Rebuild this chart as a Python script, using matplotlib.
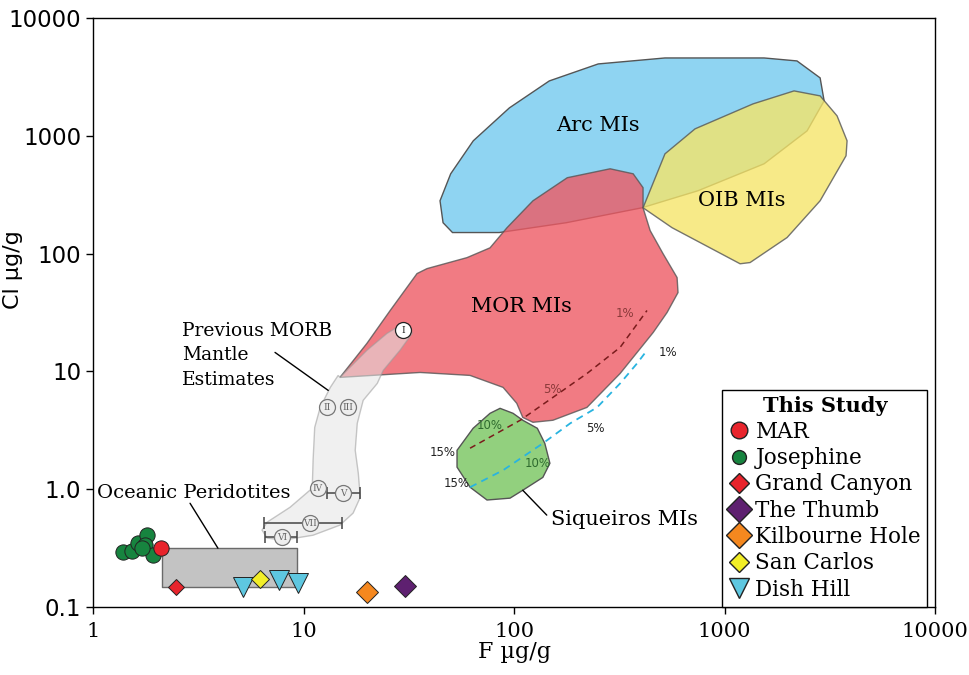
import matplotlib
matplotlib.use("Agg")
import matplotlib.pyplot as plt
from matplotlib.lines import Line2D

# ---- field outlines (F ug/g, Cl ug/g) ----
arc_f = [44.5, 46, 51, 85, 177, 405, 748, 1541, 2466, 2971, 2844, 2208,
         1541, 521, 251, 147, 95, 64, 50]
arc_cl = [281, 183, 151, 151, 183, 245, 342, 579, 1102, 1981, 3102, 4323,
          4581, 4581, 4076, 2924, 1726, 907, 476]

oib_f = [410, 521, 724, 1365, 2138, 2844, 3423, 3819, 3776, 2844, 1982,
         1322, 1185, 563]
oib_cl = [245, 703, 1146, 1867, 2406, 2183, 1477, 907, 677, 281, 137,
          84, 82, 166]

mor_f = [286, 368, 410, 410, 443, 510, 595, 601, 533, 458, 319, 222, 153,
         123, 110, 103, 88.7, 61.8, 35.8, 14.9, 20, 25.8, 34.6, 38.6,
         59.8, 76.9, 92.6, 123, 179]
mor_cl = [525, 476, 363, 245, 157, 100, 62.6, 46.7, 31.6, 21.4, 9.6, 4.95,
          3.85, 3.70, 4.07, 5.36, 7.32, 9.25, 9.8, 8.9, 17.3, 32.9, 67.7,
          74.6, 92.5, 112, 166, 281, 441]

siq_f = [85.8, 98.9, 110, 129, 140, 148, 137, 110, 95.7, 74.4, 61.8,
         53.6, 53.6, 63.9, 76.9]
siq_cl = [4.86, 4.41, 3.85, 3.29, 2.45, 1.66, 1.26, 0.98, 0.84, 0.81,
          1.04, 1.54, 2.14, 3.29, 4.41]

morb_f = [14.9, 20.0, 24.9, 28.7, 32.1, 32.8, 28.7, 23.9, 22.4, 19.2, 18.0,
          17.6, 18.2, 18.6, 17.2, 14.9, 11.1, 8.0, 6.71, 6.35, 6.71, 8.63,
          11.0, 11.1, 11.3, 12.0, 13.4, 14.6]
morb_cl = [8.9, 15.1, 21.0, 24.5, 23.6, 21.0, 15.1, 10.2, 7.91, 5.68, 3.63,
           2.14, 1.37, 0.855, 0.627, 0.496, 0.407, 0.370, 0.385, 0.450,
           0.525, 0.703, 1.02, 1.76, 3.35, 4.95, 7.32, 9.25]

peri_f = [2.13, 9.31]
peri_cl = [0.148, 0.316]

# previous MORB mantle estimates
est_lab = ["I", "II", "III", "IV", "V", "VI", "VII"]
est_f = [29.7, 12.9, 16.3, 11.7, 15.4, 7.9, 10.7]
est_cl = [22.3, 4.95, 4.95, 1.02, 0.925, 0.392, 0.515]
est_f_lo = [None, None, None, None, 12.9, 6.56, 6.5]
est_f_hi = [None, None, None, None, 18.6, 9.3, 15.2]

# melting curves
melt_red_f = [61.8, 107, 153, 222, 319, 428]
melt_red_cl = [2.23, 3.85, 6.02, 9.6, 16.0, 32.9]
melt_blue_f = [61.8, 88.7, 137, 185, 248, 319, 384, 428]
melt_blue_cl = [1.04, 1.45, 2.45, 3.63, 4.95, 7.91, 11.7, 15.1]

# this study
mar_f, mar_cl = [2.10], [0.316]
jos_f = [1.39, 1.53, 1.64, 1.81, 1.77, 1.93, 1.70]
jos_cl = [0.292, 0.299, 0.348, 0.407, 0.335, 0.276, 0.320]
gc_f, gc_cl = [2.48], [0.148]
thumb_f, thumb_cl = [30.4], [0.151]
kh_f, kh_cl = [20.0], [0.134]
sc_f, sc_cl = [6.21], [0.173]
dh_f = [5.16, 7.65, 9.42]
dh_cl = [0.148, 0.169, 0.160]

x_ticks = [1, 10, 100, 1000, 10000]
x_tick_labels = ["1", "10", "100", "1000", "10000"]
y_ticks = [0.1, 1, 10, 100, 1000, 10000]
y_tick_labels = ["0.1", "1.0", "10", "100", "1000", "10000"]

SERIF = "DejaVu Serif"
EDGE = "#555555"

fig = plt.figure(figsize=(9.69, 6.75), dpi=100)
ax = fig.add_axes([0.096, 0.1007, 0.869, 0.8726])
ax.set_xscale("log")
ax.set_yscale("log")
ax.set_xlim(1, 10000)
ax.set_ylim(0.1, 10000)

# fields
ax.fill(arc_f, arc_cl, facecolor="#8fd4f2", edgecolor=EDGE, lw=1, zorder=1)
ax.fill(mor_f, mor_cl, facecolor="#ee5a64", alpha=0.8, edgecolor=EDGE,
        lw=1, zorder=2)
ax.fill(oib_f, oib_cl, facecolor="#f5e56a", alpha=0.8, edgecolor=EDGE,
        lw=1, zorder=2)
ax.fill(morb_f, morb_cl, facecolor="#e4e4e4", alpha=0.55, edgecolor="#9a9a9a",
        lw=1, zorder=3)
ax.fill(siq_f, siq_cl, facecolor="#92d07e", edgecolor=EDGE, lw=1, zorder=3)
ax.fill_between(peri_f, peri_cl[0], peri_cl[1], facecolor="#c3c3c3",
                edgecolor="#6a6a6a", lw=1, zorder=3)

# melting curves
ax.plot(melt_red_f, melt_red_cl, ls=(0, (4, 3)), color="#7a1c1c", lw=1.1,
        zorder=4)
ax.plot(melt_blue_f, melt_blue_cl, ls=(0, (4, 3)), color="#29b4e0", lw=1.3,
        zorder=4)
pct = [("1%", 337, 31, "#8b3a3a"), ("5%", 152, 7.0, "#8b3a3a"),
       ("10%", 77, 3.5, "#2f6b2f"), ("15%", 46, 2.06, "#222222"),
       ("1%", 539, 14.5, "#222222"), ("5%", 243, 3.3, "#222222"),
       ("10%", 130, 1.66, "#2f6b2f"), ("15%", 53.6, 1.12, "#222222")]
for t, fx, fy, c in pct:
    ax.text(fx, fy, t, fontsize=8.5, color=c, ha="center", va="center",
            zorder=5)

# previous estimates with error bars
for i in range(len(est_lab)):
    if est_f_lo[i] is not None:
        ax.errorbar(est_f[i], est_cl[i],
                    xerr=[[est_f[i] - est_f_lo[i]], [est_f_hi[i] - est_f[i]]],
                    fmt="none", ecolor="#444444", elinewidth=1.1, capsize=4,
                    capthick=1.1, zorder=5)
    edge = "#222222" if est_lab[i] == "I" else "#777777"
    face = "white" if est_lab[i] == "I" else "#eeeeee"
    ax.plot(est_f[i], est_cl[i], "o", ms=11.5, mfc=face, mec=edge, mew=0.9,
            zorder=6)
    ax.text(est_f[i], est_cl[i], est_lab[i], fontsize=6.5, family=SERIF,
            color="#222222" if est_lab[i] == "I" else "#666666",
            ha="center", va="center", zorder=7)

# this study samples
ax.plot(jos_f, jos_cl, "o", ms=11, mfc="#17843f", mec="#222222", mew=0.7,
        ls="none", zorder=8)
ax.plot(mar_f, mar_cl, "o", ms=11, mfc="#e8242c", mec="#222222", mew=0.7,
        ls="none", zorder=8)
ax.plot(gc_f, gc_cl, "D", ms=8, mfc="#e8242c", mec="#222222", mew=0.7,
        ls="none", zorder=8)
ax.plot(dh_f, dh_cl, "v", ms=15, mfc="#5ec7e0", mec="#222222", mew=0.7,
        ls="none", zorder=8)
ax.plot(sc_f, sc_cl, "D", ms=9, mfc="#f2ee27", mec="#222222", mew=0.7,
        ls="none", zorder=9)
ax.plot(kh_f, kh_cl, "D", ms=11, mfc="#f5881f", mec="#222222", mew=0.7,
        ls="none", zorder=8)
ax.plot(thumb_f, thumb_cl, "D", ms=11, mfc="#5e2070", mec="#222222", mew=0.7,
        ls="none", zorder=8)

# field labels
lab_kw = dict(family=SERIF, color="black", zorder=10)
ax.text(251, 1216, "Arc MIs", ha="center", va="center", fontsize=15, **lab_kw)
ax.text(1211, 281, "OIB MIs", ha="center", va="center", fontsize=15, **lab_kw)
ax.text(109, 35.6, "MOR MIs", ha="center", va="center", fontsize=15, **lab_kw)
ax.text(150, 0.557, "Siqueiros MIs", ha="left", va="center", fontsize=15,
        **lab_kw)
ax.text(2.65, 13.7, "Previous MORB\nMantle\nEstimates", ha="left",
        va="center", linespacing=1.45, fontsize=13.5, **lab_kw)
ax.text(1.04, 0.92, "Oceanic Peridotites", ha="left", va="center",
        fontsize=14, **lab_kw)

# leader lines
ax.annotate("", xy=(13.1, 6.9), xytext=(7.32, 14.5),
            arrowprops=dict(arrowstyle="-", color="black", lw=1,
                            shrinkA=0, shrinkB=0))
ax.annotate("", xy=(3.92, 0.316), xytext=(2.89, 0.76),
            arrowprops=dict(arrowstyle="-", color="black", lw=1,
                            shrinkA=0, shrinkB=0))
ax.annotate("", xy=(110, 0.98), xytext=(143, 0.603),
            arrowprops=dict(arrowstyle="-", color="black", lw=1,
                            shrinkA=0, shrinkB=0))

# axes
ax.set_xticks(x_ticks)
ax.set_xticklabels(x_tick_labels, family=SERIF, fontsize=15)
ax.set_yticks(y_ticks)
ax.set_yticklabels(y_tick_labels, fontsize=16.5)
ax.minorticks_off()
ax.tick_params(direction="out", length=5, width=1)
ax.tick_params(axis="x", pad=6)
ax.set_xlabel("F µg/g", family=SERIF, fontsize=16, labelpad=0)
ax.set_ylabel("Cl µg/g", fontsize=16)
ax.yaxis.set_label_coords(-0.083, 0.572)
for s in ax.spines.values():
    s.set_linewidth(1)

# legend
handles = [
    Line2D([], [], marker="o", ls="none", ms=12, mfc="#e8242c", mec="#222222"),
    Line2D([], [], marker="o", ls="none", ms=10, mfc="#17843f", mec="#222222"),
    Line2D([], [], marker="D", ls="none", ms=10, mfc="#e8242c", mec="#222222"),
    Line2D([], [], marker="D", ls="none", ms=13, mfc="#5e2070", mec="#222222"),
    Line2D([], [], marker="D", ls="none", ms=13, mfc="#f5881f", mec="#222222"),
    Line2D([], [], marker="D", ls="none", ms=10, mfc="#f2ee27", mec="#222222"),
    Line2D([], [], marker="v", ls="none", ms=14, mfc="#5ec7e0", mec="#222222"),
]
names = ["MAR", "Josephine", "Grand Canyon", "The Thumb", "Kilbourne Hole",
         "San Carlos", "Dish Hill"]
leg = ax.legend(handles, names, loc="lower left",
                bbox_to_anchor=(0.747, 0.0), borderaxespad=0,
                prop={"family": SERIF, "size": 15.5}, title="This Study",
                title_fontproperties={"family": SERIF, "size": 15,
                                      "weight": "bold"},
                fancybox=False, edgecolor="black", framealpha=1,
                handletextpad=0.25, handlelength=1.0, labelspacing=0.2,
                borderpad=0.3)
leg.get_frame().set_linewidth(1)
leg.set_zorder(20)

fig.savefig("out.png", dpi=100)
